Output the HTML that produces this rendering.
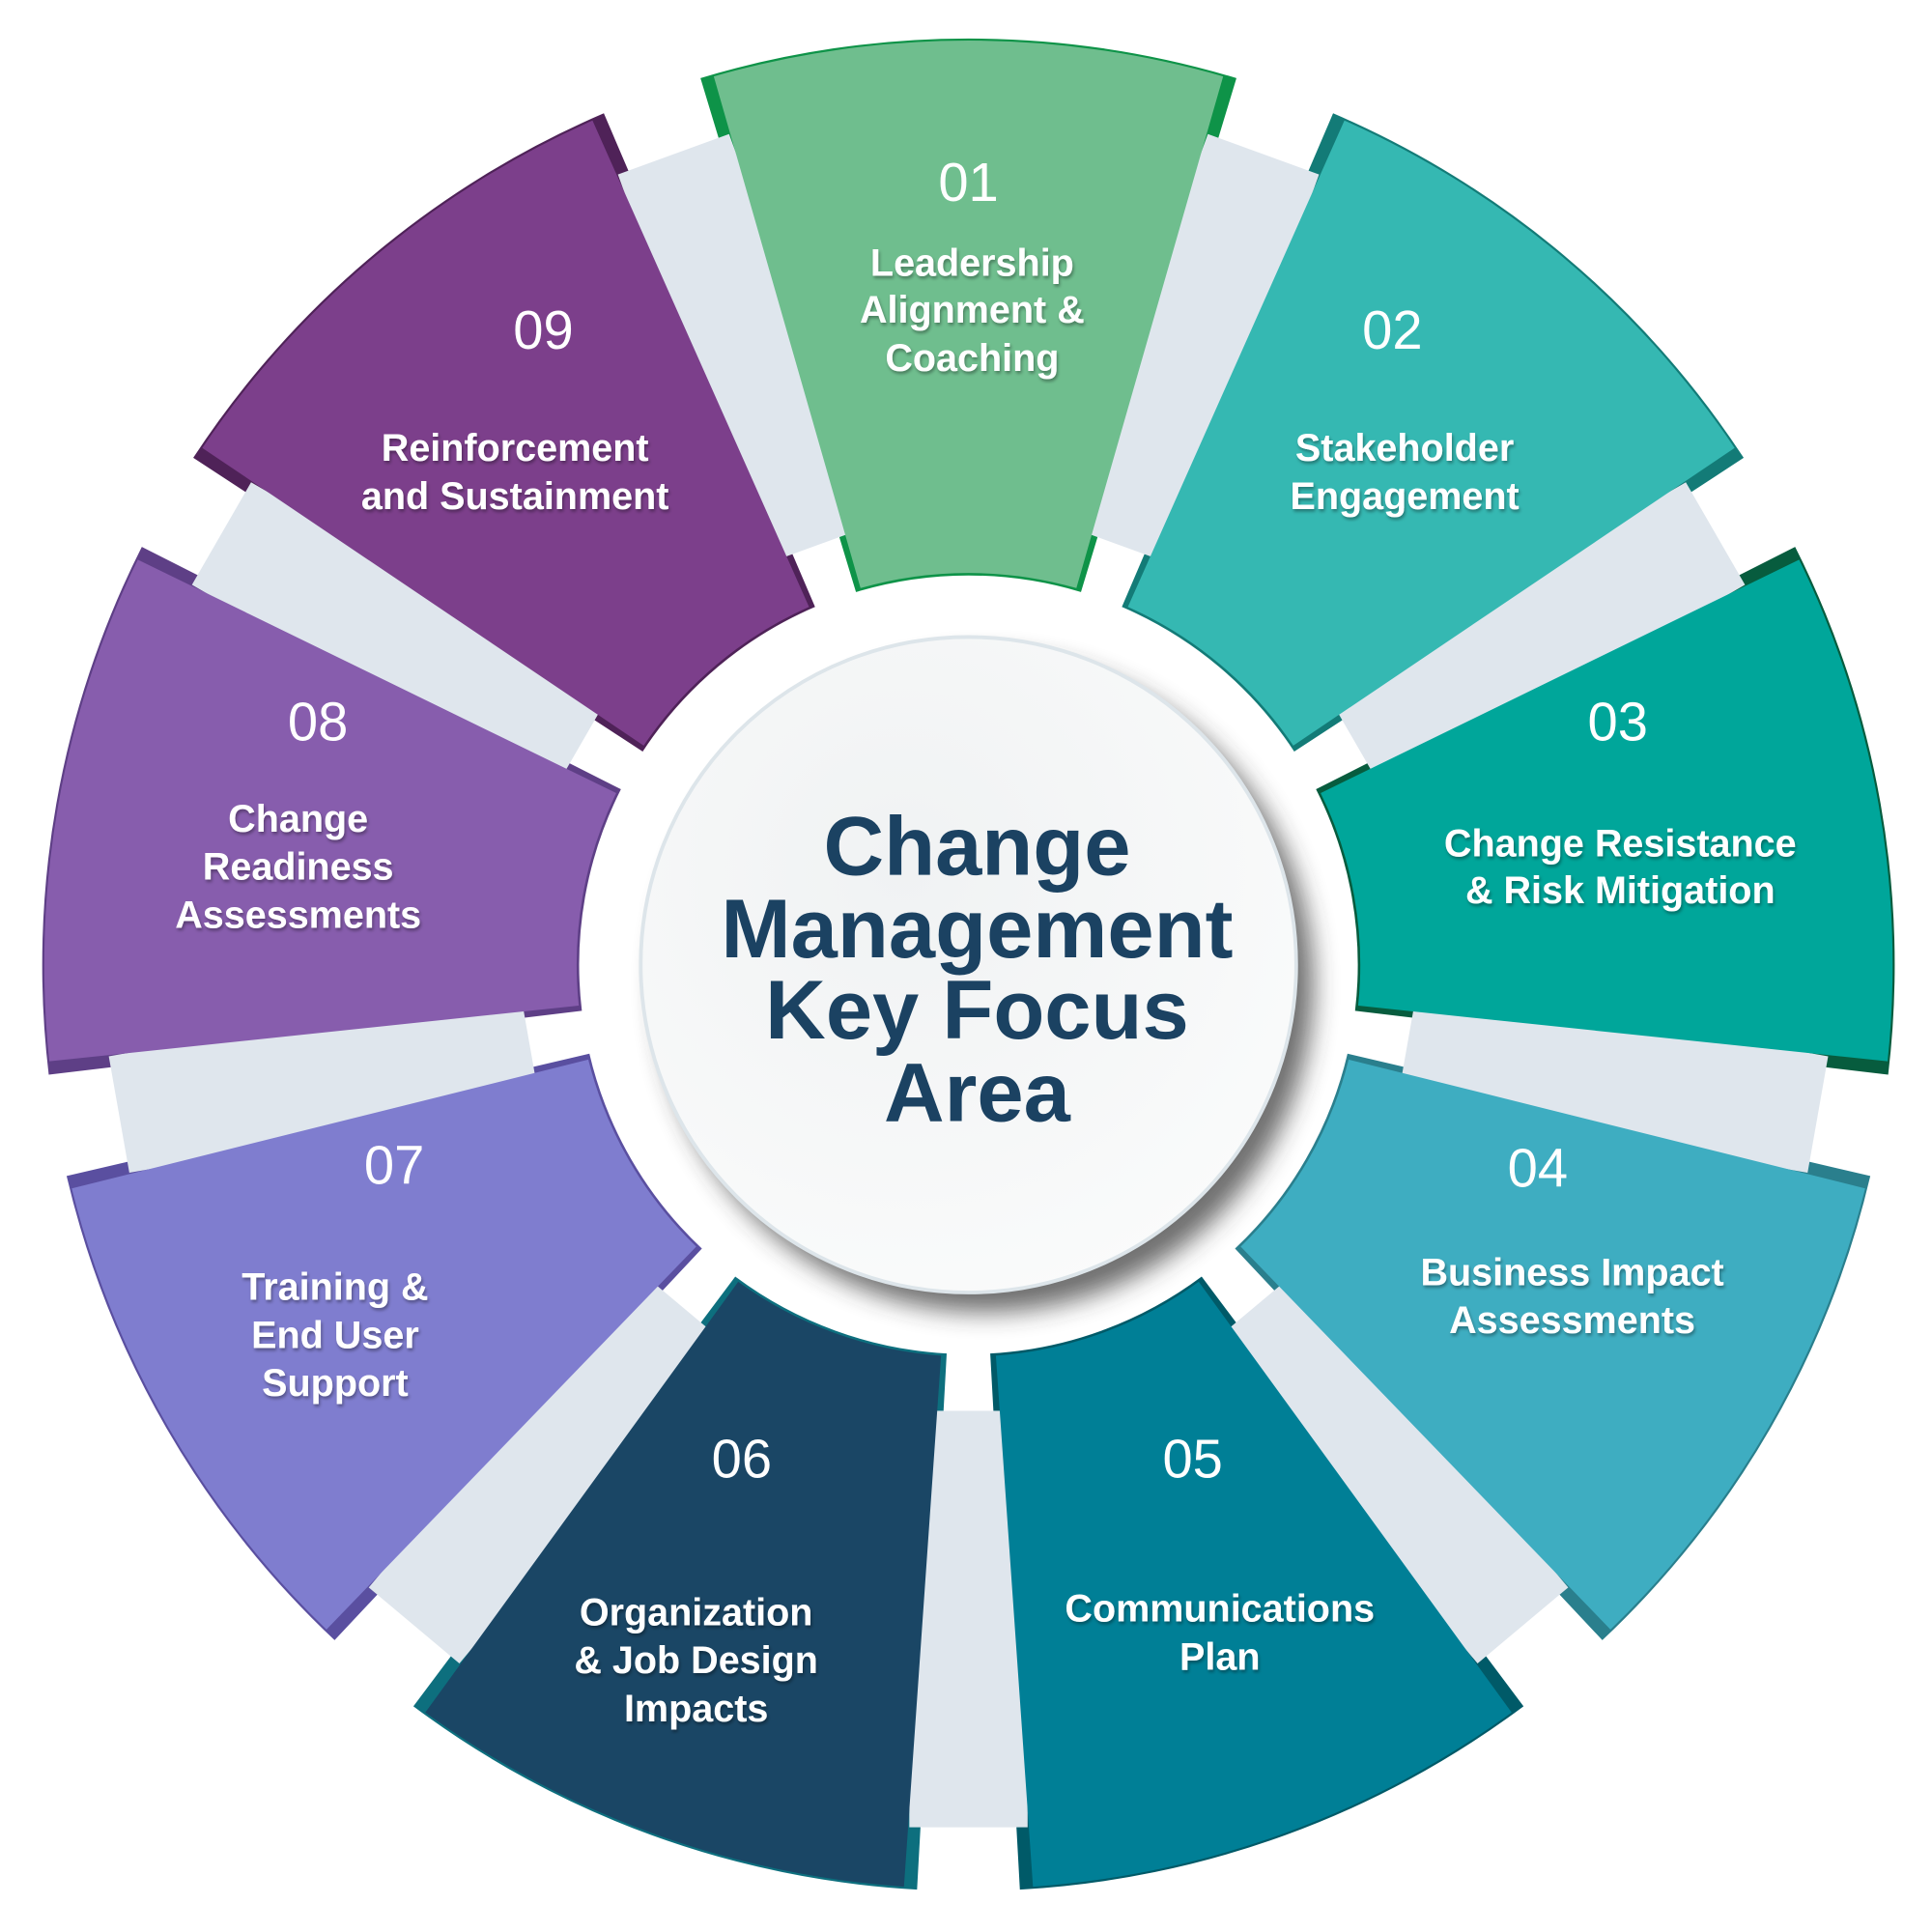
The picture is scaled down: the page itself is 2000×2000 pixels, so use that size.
<!DOCTYPE html>
<html><head><meta charset="utf-8"><style>
html,body{margin:0;padding:0;background:#fff;}
svg{display:block;}
.n{font-family:"Liberation Sans",sans-serif;font-size:44px;fill:#fff;text-anchor:middle;}
.l{font-family:"Liberation Sans",sans-serif;font-size:31px;font-weight:bold;fill:#fff;text-anchor:middle;filter:url(#ts);}
.t{font-family:"Liberation Sans",sans-serif;font-size:68px;font-weight:bold;fill:#1b4262;text-anchor:middle;}
</style></head><body>
<svg width="2000" height="2000" viewBox="0 0 1568 1568" xmlns="http://www.w3.org/2000/svg">
<defs>
<path id="dk" d="M -217.5 -719.6 A 752 752 0 0 1 217.5 -719.6 L 91.3 -302.5 A 316 316 0 0 0 -91.3 -302.5 Z"/>
<path id="wg" d="M -206.7 -721 A 750 750 0 0 1 206.7 -721 L 87.6 -305.7 A 318 318 0 0 0 -87.6 -305.7 Z"/>
<rect id="bd" x="-48" y="-700" width="96" height="338" fill="#dfe6ed"/>
<radialGradient id="cg" cx="0.4" cy="0.35" r="0.7"><stop offset="0" stop-color="#f0f2f3"/><stop offset="1" stop-color="#fafbfb"/></radialGradient>
<filter id="ts"><feDropShadow dx="1" dy="2" stdDeviation="1.2" flood-color="#000" flood-opacity="0.35"/></filter>
<filter id="bl"><feGaussianBlur stdDeviation="10"/></filter>
</defs>
<g transform="translate(786,783)">
<use href="#dk" fill="#0e9348" transform="rotate(0)"/>
<use href="#dk" fill="#137b77" transform="rotate(40)"/>
<use href="#dk" fill="#075c3e" transform="rotate(80)"/>
<use href="#dk" fill="#2a7f8d" transform="rotate(120)"/>
<use href="#dk" fill="#005a68" transform="rotate(160)"/>
<use href="#dk" fill="#0d6f7e" transform="rotate(200)"/>
<use href="#dk" fill="#5a4fa0" transform="rotate(240)"/>
<use href="#dk" fill="#5e3f86" transform="rotate(280)"/>
<use href="#dk" fill="#4f2258" transform="rotate(320)"/>
<use href="#bd" transform="rotate(20)"/>
<use href="#bd" transform="rotate(60)"/>
<use href="#bd" transform="rotate(100)"/>
<use href="#bd" transform="rotate(140)"/>
<use href="#bd" transform="rotate(180)"/>
<use href="#bd" transform="rotate(220)"/>
<use href="#bd" transform="rotate(260)"/>
<use href="#bd" transform="rotate(300)"/>
<use href="#bd" transform="rotate(340)"/>
<use href="#wg" fill="#6fbe8e" transform="rotate(0)"/>
<use href="#wg" fill="#35b8b2" transform="rotate(40)"/>
<use href="#wg" fill="#00a69a" transform="rotate(80)"/>
<use href="#wg" fill="#3eadc1" transform="rotate(120)"/>
<use href="#wg" fill="#007f96" transform="rotate(160)"/>
<use href="#wg" fill="#1a4665" transform="rotate(200)"/>
<use href="#wg" fill="#7f7dcf" transform="rotate(240)"/>
<use href="#wg" fill="#875dad" transform="rotate(280)"/>
<use href="#wg" fill="#7c3f8b" transform="rotate(320)"/>
<circle cx="14" cy="16" r="266" fill="#333" opacity="0.7" filter="url(#bl)"/>
<circle cx="0" cy="0" r="266" fill="url(#cg)" stroke="#dde5ea" stroke-width="3"/>
</g>
<text class="t" x="793" y="710">Change</text>
<text class="t" x="793" y="777">Management</text>
<text class="t" x="793" y="843">Key Focus</text>
<text class="t" x="793" y="910">Area</text>

<text class="n" x="786" y="163">01</text>
<text class="l" x="789" y="224">Leadership</text>
<text class="l" x="789" y="262">Alignment &amp;</text>
<text class="l" x="789" y="301">Coaching</text>

<text class="n" x="1130" y="283">02</text>
<text class="l" x="1140" y="374">Stakeholder</text>
<text class="l" x="1140" y="413">Engagement</text>

<text class="n" x="1313" y="601">03</text>
<text class="l" x="1315" y="695">Change Resistance</text>
<text class="l" x="1315" y="733">&amp; Risk Mitigation</text>

<text class="n" x="1248" y="963">04</text>
<text class="l" x="1276" y="1043">Business Impact</text>
<text class="l" x="1276" y="1082">Assessments</text>

<text class="n" x="968" y="1199">05</text>
<text class="l" x="990" y="1316">Communications</text>
<text class="l" x="990" y="1355">Plan</text>

<text class="n" x="602" y="1199">06</text>
<text class="l" x="565" y="1319">Organization</text>
<text class="l" x="565" y="1358">&amp; Job Design</text>
<text class="l" x="565" y="1397">Impacts</text>

<text class="n" x="320" y="961">07</text>
<text class="l" x="272" y="1055">Training &amp;</text>
<text class="l" x="272" y="1094">End User</text>
<text class="l" x="272" y="1133">Support</text>

<text class="n" x="258" y="601">08</text>
<text class="l" x="242" y="675">Change</text>
<text class="l" x="242" y="714">Readiness</text>
<text class="l" x="242" y="753">Assessments</text>

<text class="n" x="441" y="283">09</text>
<text class="l" x="418" y="374">Reinforcement</text>
<text class="l" x="418" y="413">and Sustainment</text>
</svg>
</body></html>
